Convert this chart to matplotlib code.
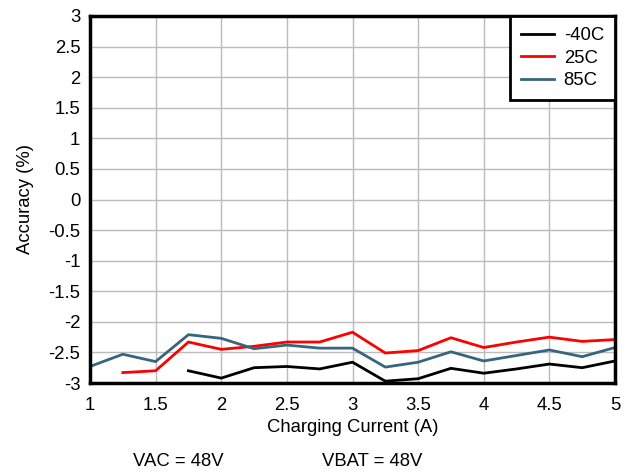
import numpy as np
import matplotlib
matplotlib.use("Agg")
import matplotlib.pyplot as plt

plt.rcParams['font.family'] = ['Liberation Sans', 'DejaVu Sans']

# charging current (A)
current = [1.0, 1.25, 1.5, 1.75, 2.0, 2.25, 2.5, 2.75, 3.0, 3.25, 3.5, 3.75, 4.0, 4.25, 4.5, 4.75, 5.0]

# accuracy (%), None where no measurement
acc_m40 = [None, None, None, -2.80, -2.92, -2.75, -2.73, -2.77, -2.66, -2.97, -2.93, -2.76, -2.84, -2.77, -2.69, -2.75, -2.64]
acc_25 = [None, -2.83, -2.80, -2.33, -2.45, -2.40, -2.33, -2.33, -2.17, -2.51, -2.47, -2.26, -2.42, -2.33, -2.25, -2.32, -2.29]
acc_85 = [-2.73, -2.53, -2.65, -2.21, -2.27, -2.44, -2.38, -2.43, -2.43, -2.74, -2.66, -2.49, -2.64, -2.55, -2.46, -2.57, -2.42]

labels = ['-40C', '25C', '85C']
colors = ['black', '#FF0000', '#37657E']
fs = 13.3

fig = plt.figure(figsize=(6.31, 4.74), dpi=100)
ax = fig.add_axes([90/631, 1-383/474, (615-90)/631, (383-16)/474])

for ys, lab, c in zip([acc_m40, acc_25, acc_85], labels, colors):
    y = np.array([np.nan if v is None else v for v in ys])
    ax.plot(current, y, color=c, lw=2, label=lab)

ax.set_xlim(1, 5)
ax.set_ylim(-3, 3)
ax.set_xticks(np.arange(1, 5.01, 0.5))
ax.set_xticklabels(['1', '1.5', '2', '2.5', '3', '3.5', '4', '4.5', '5'])
ax.set_yticks(np.arange(-3, 3.01, 0.5))
ax.set_yticklabels(['-3', '-2.5', '-2', '-1.5', '-1', '-0.5', '0', '0.5', '1', '1.5', '2', '2.5', '3'])
ax.grid(True, color='#BBBBBB', lw=1)
ax.tick_params(labelsize=fs, length=0)
ax.tick_params(axis='x', pad=10)
ax.tick_params(axis='y', pad=7)
for s in ax.spines.values():
    s.set_linewidth(2.5)

ax.set_xlabel('Charging Current (A)', fontsize=fs, labelpad=4)
ax.set_ylabel('Accuracy (%)', fontsize=fs, labelpad=10)

leg = ax.legend(loc='upper right', fontsize=fs, fancybox=False, framealpha=1,
                edgecolor='black', borderaxespad=0, handlelength=1.8,
                labelspacing=0.3, borderpad=0.6, handletextpad=0.5)
leg.get_frame().set_linewidth(2)

fig.text(133/631, 1-462/474, 'VAC = 48V', fontsize=fs, va='center')
fig.text(322/631, 1-462/474, 'VBAT = 48V', fontsize=fs, va='center')

fig.savefig('out.png', dpi=100)
